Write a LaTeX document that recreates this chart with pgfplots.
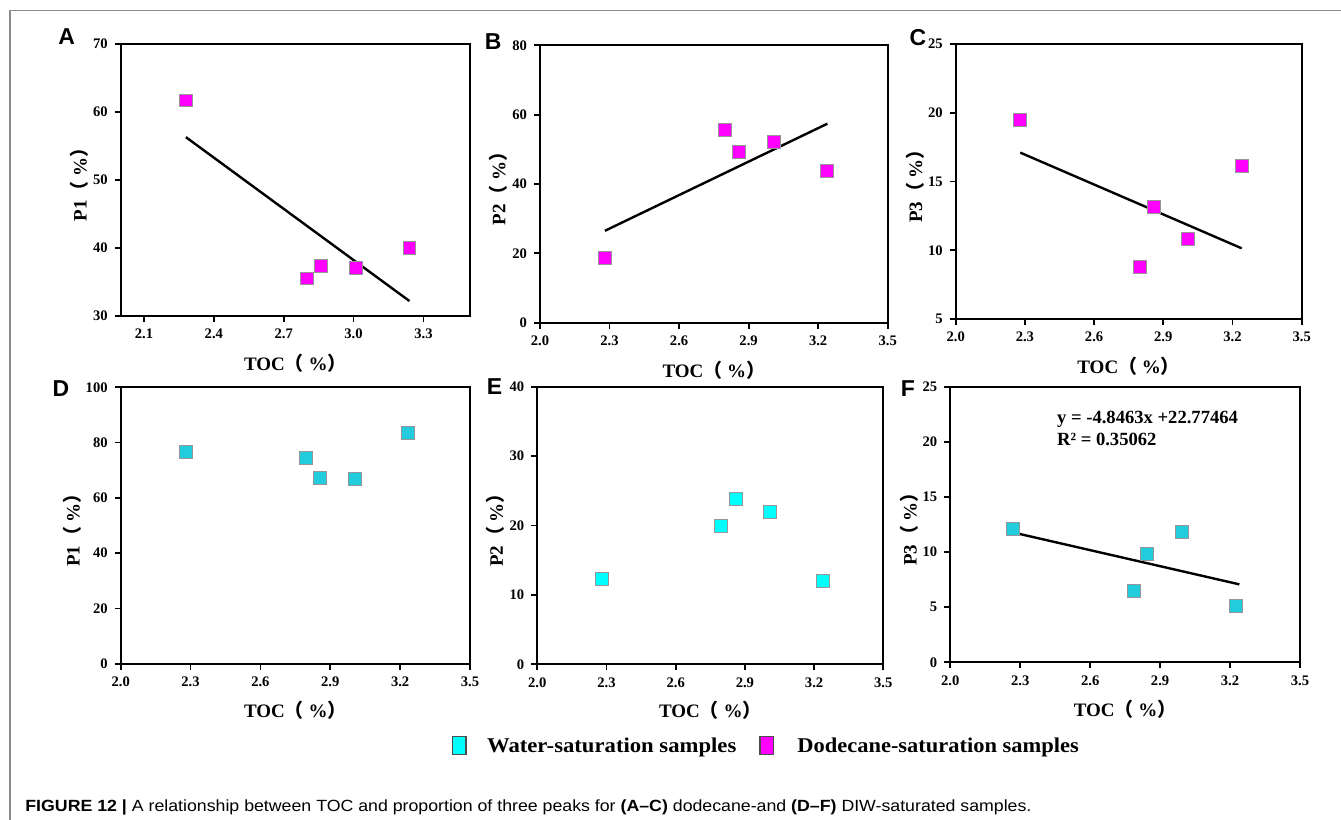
\documentclass[border=0pt]{standalone}
\usepackage{graphicx}
\usepackage{pgfplots}
\pgfplotsset{compat=1.18}
\usepackage{fontspec}
\setmainfont{Liberation Serif}
\newfontfamily\sansf{Liberation Sans}
\newfontfamily\cjk{Noto Sans CJK SC}
\definecolor{mag}{RGB}{255,0,255}
\definecolor{cyd}{RGB}{34,204,221}
\definecolor{cyb}{RGB}{0,255,255}
\definecolor{mkb}{RGB}{150,150,150}
\definecolor{frm}{RGB}{140,140,140}
\pgfplotsset{
  panel/.style={
    scale only axis, anchor=south west,
    axis line style={line width=1pt},
    tick style={line width=0.9pt, black},
    major tick length=3pt,
    tick align=outside,
    xtick pos=bottom, ytick pos=left,
    xmin=2.0, xmax=3.5,
    /pgf/number format/assume math mode=true,
    tick label style={font=\fontsize{7.3}{8}\selectfont\bfseries},
    label style={font=\fontsize{9.5}{11}\selectfont\bfseries},
    xticklabel style={/pgf/number format/.cd, fixed, fixed zerofill, precision=1},
    yticklabel style={/pgf/number format/.cd, fixed, precision=0},
    xlabel={TOC{\cjk （}\ \%{\cjk ）}},
    clip=false,
  },
  magm/.style={only marks, mark=square*, mark size=3.2pt, mark options={fill=mag, draw=mkb, line width=0.5pt}},
  cydm/.style={only marks, mark=square*, mark size=3.2pt, mark options={fill=cyd, draw=mkb, line width=0.5pt}},
  cybm/.style={only marks, mark=square*, mark size=3.2pt, mark options={fill=cyb, draw=mkb, line width=0.5pt}},
  trend/.style={black, line width=1.2pt, no marks},
}
\begin{document}
\begin{tikzpicture}
% frame
\draw[frm, line width=0.7pt] (5pt,0pt) -- (5pt,404.75pt) -- (670.5pt,404.75pt);

% Panel A
\begin{axis}[panel, at={(60.35pt,252pt)}, width=174.65pt, height=136pt,
  ymin=30, ymax=70, ytick={30,40,50,60,70}, xtick={2.1,2.4,2.7,3.0,3.3},
  ylabel={P1{\cjk （}\ \%{\cjk ）}},
  xlabel style={at={(axis description cs:0.5,-0.1728)}, anchor=center},
  ylabel style={at={(axis description cs:-0.1185,0.5)}, anchor=center}]
\addplot[magm] coordinates {(2.28,61.7) (2.80,35.5) (2.86,37.4) (3.01,37.0) (3.24,40.0)};
\addplot[trend] coordinates {(2.28,56.3) (3.24,32.2)};
\end{axis}

% Panel B
\begin{axis}[panel, at={(270pt,248.65pt)}, width=173.85pt, height=138.7pt,
  ymin=0, ymax=80, ytick={0,20,40,60,80}, xtick={2.0,2.3,2.6,2.9,3.2,3.5},
  ylabel={P2{\cjk （}\ \%{\cjk ）}},
  xlabel style={at={(axis description cs:0.5,-0.1705)}, anchor=center},
  ylabel style={at={(axis description cs:-0.12,0.5)}, anchor=center}]
\addplot[magm] coordinates {(2.279,18.7) (2.798,55.6) (2.86,49.3) (3.01,52.0) (3.239,43.7)};
\addplot[trend] coordinates {(2.28,26.5) (3.24,57.4)};
\end{axis}

% Panel C
\begin{axis}[panel, at={(477.85pt,250.5pt)}, width=173pt, height=137.5pt,
  ymin=5, ymax=25, ytick={5,10,15,20,25}, xtick={2.0,2.3,2.6,2.9,3.2,3.5},
  ylabel={P3{\cjk （}\ \%{\cjk ）}},
  xlabel style={at={(axis description cs:0.5,-0.1735)}, anchor=center},
  ylabel style={at={(axis description cs:-0.1176,0.5)}, anchor=center}]
\addplot[magm] coordinates {(2.279,19.47) (2.80,8.8) (2.86,13.15) (3.008,10.8) (3.24,16.13)};
\addplot[trend] coordinates {(2.28,17.1) (3.24,10.14)};
\end{axis}

% Panel D
\begin{axis}[panel, at={(60.35pt,78.15pt)}, width=174.65pt, height=138.2pt,
  ymin=0, ymax=100, ytick={0,20,40,60,80,100}, xtick={2.0,2.3,2.6,2.9,3.2,3.5},
  ylabel={P1{\cjk （}\ \%{\cjk ）}},
  xlabel style={at={(axis description cs:0.5,-0.1675)}, anchor=center},
  ylabel style={at={(axis description cs:-0.1386,0.5)}, anchor=center}]
\addplot[cydm] coordinates {(2.279,76.5) (2.796,74.4) (2.857,67.1) (3.005,66.9) (3.234,83.6)};
\end{axis}

% Panel E
\begin{axis}[panel, at={(268.65pt,77.85pt)}, width=173pt, height=138.8pt,
  ymin=0, ymax=40, ytick={0,10,20,30,40}, xtick={2.0,2.3,2.6,2.9,3.2,3.5},
  ylabel={P2{\cjk （}\ \%{\cjk ）}},
  xlabel style={at={(axis description cs:0.5,-0.167)}, anchor=center},
  ylabel style={at={(axis description cs:-0.1202,0.5)}, anchor=center}]
\addplot[cybm] coordinates {(2.279,12.25) (2.798,19.93) (2.86,23.8) (3.009,21.9) (3.238,12.0)};
\end{axis}

% Panel F
\begin{axis}[panel, at={(475.15pt,78.85pt)}, width=174.85pt, height=137.8pt,
  ymin=0, ymax=25, ytick={0,5,10,15,20,25}, xtick={2.0,2.3,2.6,2.9,3.2,3.5},
  ylabel={P3{\cjk （}\ \%{\cjk ）}},
  xlabel style={at={(axis description cs:0.5,-0.1695)}, anchor=center},
  ylabel style={at={(axis description cs:-0.1172,0.5)}, anchor=center}]
\addplot[cydm] coordinates {(2.269,12.12) (2.787,6.47) (2.845,9.83) (2.995,11.8) (3.224,5.11)};
\addplot[trend] coordinates {(2.277,11.74) (3.24,7.07)};
\end{axis}

% equation in F
\node[anchor=base west, font=\fontsize{9.3}{11}\selectfont\bfseries, inner sep=0] at (528.35pt,198.35pt) {y = -4.8463x +22.77464};
\node[anchor=base west, font=\fontsize{9.3}{11}\selectfont\bfseries, inner sep=0] at (528.35pt,187pt) {R² = 0.35062};

% panel letters
\begin{scope}[every node/.style={font=\sansf\fontsize{11.5}{13}\selectfont\bfseries, inner sep=0, anchor=center}]
\node at (33.35pt,391.65pt) {A};
\node at (246.65pt,389.15pt) {B};
\node at (459pt,391.25pt) {C};
\node at (30.5pt,215.75pt) {D};
\node at (247.25pt,216.75pt) {E};
\node at (454pt,215.5pt) {F};
\end{scope}

% legend
\draw[fill=cyb, draw=black!70, line width=0.6pt] (226.35pt,32.85pt) rectangle (233pt,41.65pt);
\node[anchor=base west, inner sep=0, font=\fontsize{10.5}{12}\selectfont\bfseries] at (243.35pt,33.5pt) {\scalebox{1.08}[1]{Water-saturation samples}};
\draw[fill=mag, draw=black!70, line width=0.6pt] (380pt,32.85pt) rectangle (386.65pt,41.65pt);
\node[anchor=base west, inner sep=0, font=\fontsize{10.5}{12}\selectfont\bfseries] at (398.5pt,33.5pt) {\scalebox{1.07}[1]{Dodecane-saturation samples}};

% caption
\node[anchor=base west, inner sep=0, font=\sansf\fontsize{8.1}{9}\selectfont] at (12.5pt,4.15pt) {\scalebox{1.095}[1]{\textbf{FIGURE 12 |} A relationship between TOC and proportion of three peaks for \textbf{(A–C)} dodecane-and \textbf{(D–F)} DIW-saturated samples.}};

\pgfresetboundingbox
\useasboundingbox (0pt,0pt) rectangle (670.5pt,410pt);
\end{tikzpicture}
\end{document}
